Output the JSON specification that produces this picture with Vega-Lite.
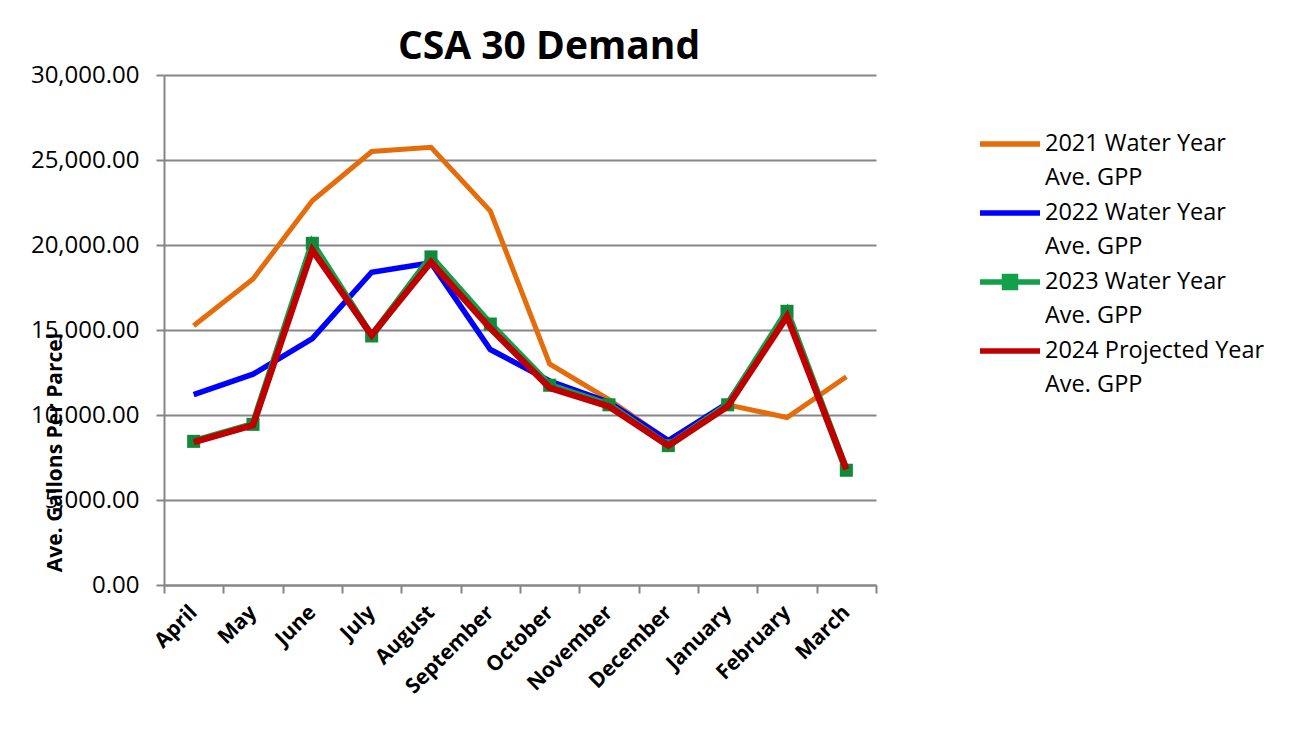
{
  "$schema": "https://vega.github.io/schema/vega-lite/v6.json",
  "autosize": {"type": "none"},
  "width": 712,
  "height": 510,
  "padding": {"left": 164, "top": 75, "right": 431, "bottom": 171},
  "background": "white",
  "title": {
    "text": "CSA 30 Demand",
    "font": "Open Sans",
    "fontSize": 39,
    "fontWeight": "bold",
    "color": "black",
    "anchor": "middle",
    "dx": 29,
    "baseline": "alphabetic",
    "offset": 6,
    "dy": 41
  },
  "config": {
    "view": {"stroke": null},
    "style": {"guide-label": {"lineHeight": 34}},
    "axis": {
      "domainColor": "#868686",
      "domainWidth": 2,
      "gridColor": "#868686",
      "gridWidth": 2,
      "tickColor": "#868686",
      "tickWidth": 2,
      "labelColor": "black",
      "titleColor": "black"
    }
  },
  "data": {
    "values": [
      {"month": "April", "series": "2021 Water Year Ave. GPP", "value": 15250},
      {"month": "May", "series": "2021 Water Year Ave. GPP", "value": 18000},
      {"month": "June", "series": "2021 Water Year Ave. GPP", "value": 22600},
      {"month": "July", "series": "2021 Water Year Ave. GPP", "value": 25500},
      {"month": "August", "series": "2021 Water Year Ave. GPP", "value": 25750},
      {"month": "September", "series": "2021 Water Year Ave. GPP", "value": 22000},
      {"month": "October", "series": "2021 Water Year Ave. GPP", "value": 13000},
      {"month": "November", "series": "2021 Water Year Ave. GPP", "value": 10900},
      {"month": "December", "series": "2021 Water Year Ave. GPP", "value": 8500},
      {"month": "January", "series": "2021 Water Year Ave. GPP", "value": 10600},
      {"month": "February", "series": "2021 Water Year Ave. GPP", "value": 9850},
      {"month": "March", "series": "2021 Water Year Ave. GPP", "value": 12250},
      {"month": "April", "series": "2022 Water Year Ave. GPP", "value": 11200},
      {"month": "May", "series": "2022 Water Year Ave. GPP", "value": 12400},
      {"month": "June", "series": "2022 Water Year Ave. GPP", "value": 14500},
      {"month": "July", "series": "2022 Water Year Ave. GPP", "value": 18400},
      {"month": "August", "series": "2022 Water Year Ave. GPP", "value": 18950},
      {"month": "September", "series": "2022 Water Year Ave. GPP", "value": 13850},
      {"month": "October", "series": "2022 Water Year Ave. GPP", "value": 12000},
      {"month": "November", "series": "2022 Water Year Ave. GPP", "value": 10750},
      {"month": "December", "series": "2022 Water Year Ave. GPP", "value": 8500},
      {"month": "January", "series": "2022 Water Year Ave. GPP", "value": 10700},
      {"month": "February", "series": "2022 Water Year Ave. GPP", "value": 16000},
      {"month": "March", "series": "2022 Water Year Ave. GPP", "value": 6800},
      {"month": "April", "series": "2023 Water Year Ave. GPP", "value": 8450},
      {"month": "May", "series": "2023 Water Year Ave. GPP", "value": 9450},
      {"month": "June", "series": "2023 Water Year Ave. GPP", "value": 20100},
      {"month": "July", "series": "2023 Water Year Ave. GPP", "value": 14650},
      {"month": "August", "series": "2023 Water Year Ave. GPP", "value": 19300},
      {"month": "September", "series": "2023 Water Year Ave. GPP", "value": 15350},
      {"month": "October", "series": "2023 Water Year Ave. GPP", "value": 11750},
      {"month": "November", "series": "2023 Water Year Ave. GPP", "value": 10600},
      {"month": "December", "series": "2023 Water Year Ave. GPP", "value": 8200},
      {"month": "January", "series": "2023 Water Year Ave. GPP", "value": 10600},
      {"month": "February", "series": "2023 Water Year Ave. GPP", "value": 16100},
      {"month": "March", "series": "2023 Water Year Ave. GPP", "value": 6750},
      {"month": "April", "series": "2024 Projected Year Ave. GPP", "value": 8400},
      {"month": "May", "series": "2024 Projected Year Ave. GPP", "value": 9400},
      {"month": "June", "series": "2024 Projected Year Ave. GPP", "value": 19700},
      {"month": "July", "series": "2024 Projected Year Ave. GPP", "value": 14700},
      {"month": "August", "series": "2024 Projected Year Ave. GPP", "value": 19000},
      {"month": "September", "series": "2024 Projected Year Ave. GPP", "value": 15100},
      {"month": "October", "series": "2024 Projected Year Ave. GPP", "value": 11600},
      {"month": "November", "series": "2024 Projected Year Ave. GPP", "value": 10500},
      {"month": "December", "series": "2024 Projected Year Ave. GPP", "value": 8200},
      {"month": "January", "series": "2024 Projected Year Ave. GPP", "value": 10500},
      {"month": "February", "series": "2024 Projected Year Ave. GPP", "value": 15800},
      {"month": "March", "series": "2024 Projected Year Ave. GPP", "value": 6800}
    ]
  },
  "encoding": {
    "x": {
      "field": "month",
      "type": "nominal",
      "sort": ["April", "May", "June", "July", "August", "September", "October", "November", "December", "January", "February", "March"],
      "scale": {"type": "band", "paddingInner": 0, "paddingOuter": 0},
      "axis": {
        "title": null,
        "tickBand": "extent",
        "tickSize": 8,
        "labelAngle": -45,
        "labelAlign": "right",
        "labelBaseline": "middle",
        "labelPadding": 16,
        "labelFont": "Open Sans",
        "labelFontSize": 21,
        "labelFontWeight": "bold",
        "grid": false
      }
    },
    "y": {
      "field": "value",
      "type": "quantitative",
      "scale": {"domain": [0, 30000], "nice": false},
      "axis": {
        "values": [0, 5000, 10000, 15000, 20000, 25000, 30000],
        "format": ",.2f",
        "grid": true,
        "tickSize": 8,
        "labelPadding": 17,
        "labelFont": "Open Sans",
        "labelFontSize": 24,
        "title": "Ave. Gallons Per Parcel",
        "titleFont": "Open Sans",
        "titleFontSize": 21,
        "titleFontWeight": "bold",
        "titleAngle": -90,
        "titleAlign": "center",
        "titleBaseline": "middle",
        "titleX": -109,
        "titleY": 377
      }
    },
    "color": {
      "field": "series",
      "type": "nominal",
      "scale": {
        "domain": ["2021 Water Year Ave. GPP", "2022 Water Year Ave. GPP", "2023 Water Year Ave. GPP", "2024 Projected Year Ave. GPP"],
        "range": ["#E46C0A", "#0000FF", "#13A04A", "#C00000"]
      },
      "legend": null
    }
  },
  "layer": [
    {
      "transform": [{"filter": "false"}],
      "mark": {"type": "point", "filled": true, "opacity": 1, "size": 900},
      "encoding": {
        "color": {
          "field": "series",
          "type": "nominal",
          "legend": {
            "title": null,
            "orient": "none",
            "legendX": 831,
            "legendY": 54,
            "symbolSize": 900,
            "symbolStrokeWidth": 0,
            "symbolOpacity": 1,
            "labelFont": "Open Sans",
            "labelFontSize": 23.5,
            "labelColor": "black",
            "labelLimit": 400,
            "labelOffset": 20,
            "rowPadding": 8,
            "labelExpr": "split(replace(datum.label, ' Ave.', '|Ave.'), '|')"
          }
        },
        "shape": {
          "field": "series",
          "type": "nominal",
          "scale": {
            "domain": ["2021 Water Year Ave. GPP", "2022 Water Year Ave. GPP", "2023 Water Year Ave. GPP", "2024 Projected Year Ave. GPP"],
            "range": [
              "M-2,-0.19H2V0.19H-2Z",
              "M-2,-0.19H2V0.19H-2Z",
              "M-2,-0.19H2V0.19H-2Z M-0.55,-0.55H0.55V0.55H-0.55Z",
              "M-2,-0.19H2V0.19H-2Z"
            ]
          },
          "legend": {"title": null}
        }
      }
    },
    {
      "transform": [{"filter": "datum.series == '2021 Water Year Ave. GPP'"}],
      "mark": {"type": "line", "strokeWidth": 5}
    },
    {
      "transform": [{"filter": "datum.series == '2022 Water Year Ave. GPP'"}],
      "mark": {"type": "line", "strokeWidth": 5.5}
    },
    {
      "transform": [{"filter": "datum.series == '2023 Water Year Ave. GPP'"}],
      "mark": {"type": "line", "strokeWidth": 7, "color": "#0E8A3A"}
    },
    {
      "transform": [{"filter": "datum.series == '2023 Water Year Ave. GPP'"}],
      "mark": {"type": "point", "shape": "square", "filled": true, "size": 170, "opacity": 1, "color": "#0E8A3A"},
      "encoding": {"color": {"value": "#0E8A3A"}}
    },
    {
      "transform": [{"filter": "datum.series == '2024 Projected Year Ave. GPP'"}],
      "mark": {"type": "line", "strokeWidth": 6.5}
    }
  ]
}
